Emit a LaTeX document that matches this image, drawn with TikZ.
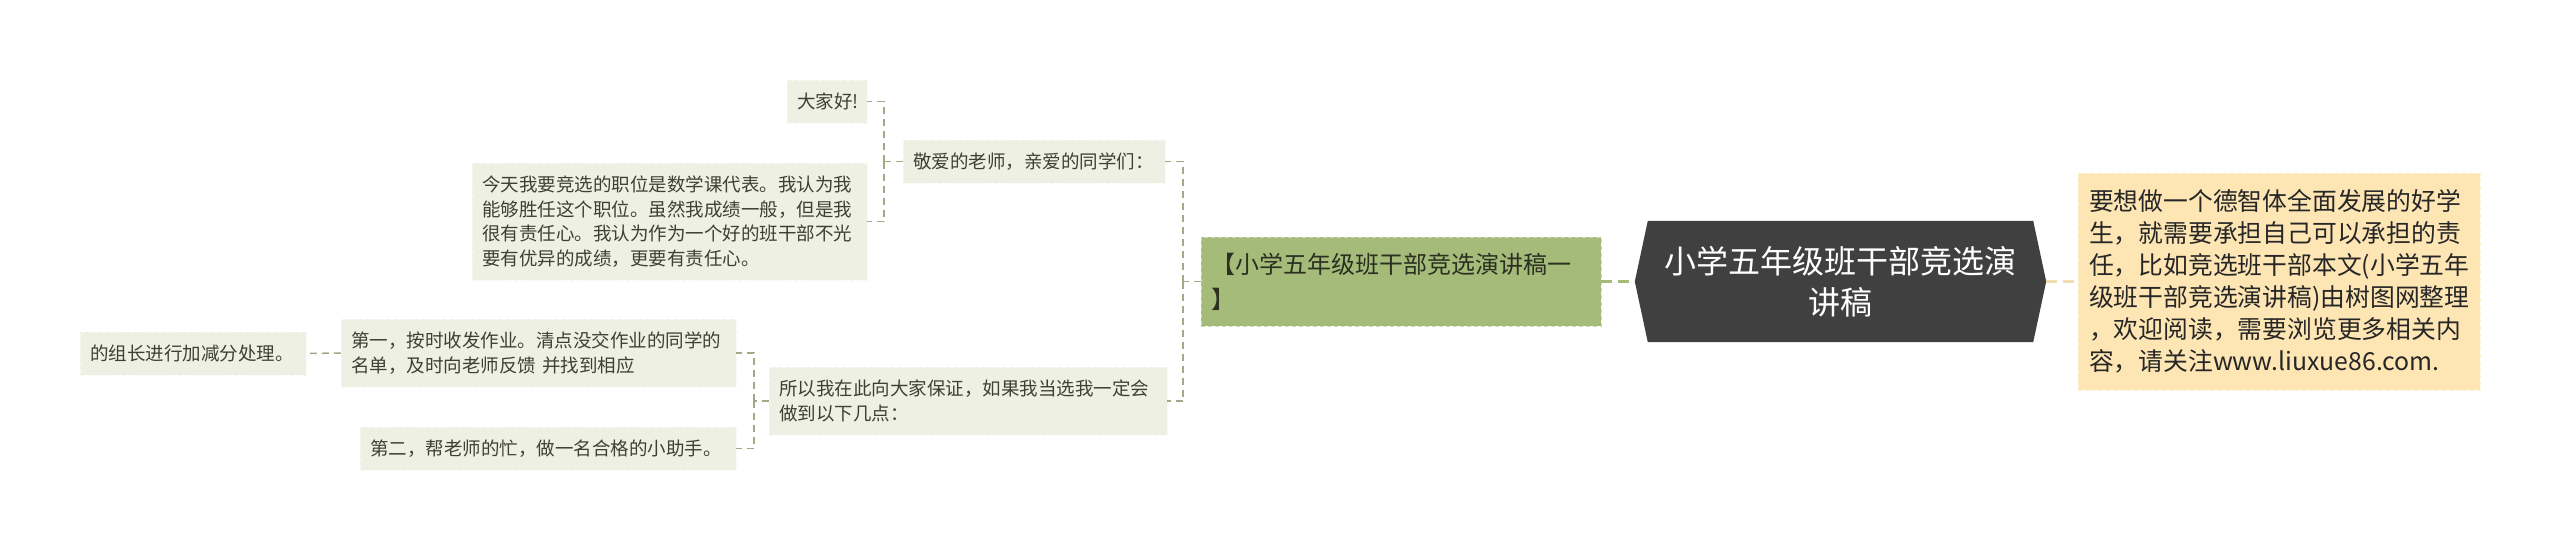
\documentclass[tikz,border=0pt]{standalone}
\usepackage{fontspec}
\newfontfamily\cjk{Noto Sans CJK SC}
\usetikzlibrary{backgrounds}
\definecolor{boxfill}{HTML}{EEF0E4}
\definecolor{boxtext}{HTML}{3F4030}
\definecolor{linecol}{HTML}{A3A887}
\definecolor{greenfill}{HTML}{A5BB7A}
\definecolor{greentext}{HTML}{2B3020}
\definecolor{darkfill}{HTML}{404040}
\definecolor{yellowfill}{HTML}{FDE6B4}
\definecolor{yellowline}{HTML}{F3DCB0}
\begin{document}
\begin{tikzpicture}[x=1pt,y=-1pt,
  leaf/.style={fill=boxfill, draw=white!55!boxfill, dash pattern=on 4pt off 3pt,
    text=boxtext, font=\cjk\fontsize{18.5}{24.5}\selectfont, align=left,
    inner xsep=10pt, inner ysep=0pt},
  conn/.style={draw=linecol, line width=1.5pt, dash pattern=on 7pt off 5pt},
  greenconn/.style={draw=greenfill, line width=3pt, dash pattern=on 11pt off 6pt},
  yellowconn/.style={draw=yellowline, line width=3pt, dash pattern=on 11pt off 6pt},
]
\useasboundingbox (0,0) rectangle (2560,551);

% leaves
\node[leaf, text width=60pt, minimum height=43pt] (n1) at (827,101.5) {大家好!};
\node[leaf, text width=375pt, minimum height=117pt] (n2) at (669.5,221.5)
  {今天我要竞选的职位是数学课代表。我认为我\\能够胜任这个职位。虽然我成绩一般，但是我\\很有责任心。我认为作为一个好的班干部不光\\要有优异的成绩，更要有责任心。};
\node[leaf, text width=242pt, minimum height=43pt] (n3) at (1034,161.5) {敬爱的老师，亲爱的同学们：};
\node[leaf, text width=206pt, minimum height=43pt] (n4) at (193,353.5) {的组长进行加减分处理。};
\node[leaf, text width=375pt, minimum height=68pt] (n5) at (538.5,353)
  {第一，按时收发作业。清点没交作业的同学的\\名单，及时向老师反馈 并找到相应};
\node[leaf, text width=356pt, minimum height=43pt] (n6) at (548,448.5) {第二，帮老师的忙，做一名合格的小助手。};
\node[leaf, text width=378pt, minimum height=68pt] (n7) at (968,401)
  {所以我在此向大家保证，如果我当选我一定会\\做到以下几点：};

% green branch
\node[fill=greenfill, draw=white!45!greenfill, dash pattern=on 4pt off 3pt, text=greentext,
  font=\cjk\fontsize{24}{35}\selectfont, align=left, text width=380pt,
  inner xsep=10pt, inner ysep=0pt, minimum height=89pt] (g) at (1401,281.5)
  {【小学五年级班干部竞选演讲稿一\\】};

% root
\node[minimum width=411pt, minimum height=121pt, inner sep=0pt, text=white,
  font=\cjk\fontsize{32}{41}\selectfont, align=center] (root) at (1840.5,281.5)
  {小学五年级班干部竞选演\\讲稿};
\begin{scope}[on background layer]
\fill[white] (0,0) rectangle (2560,551);
\fill[darkfill] (root.west) -- ([xshift=13pt]root.north west) -- ([xshift=-13pt]root.north east)
  -- (root.east) -- ([xshift=-13pt]root.south east) -- ([xshift=13pt]root.south west) -- cycle;
\end{scope}

% yellow note
\node[fill=yellowfill, draw=white!45!yellowfill, dash pattern=on 4pt off 3pt, text=black!85,
  font=\cjk\fontsize{24.8}{32}\selectfont, align=left, text width=380pt,
  inner xsep=11pt, inner ysep=0pt, minimum height=217pt] (yn) at (2279,281.5)
  {要想做一个德智体全面发展的好学\\生，就需要承担自己可以承担的责\\任，比如竞选班干部本文(小学五年\\级班干部竞选演讲稿)由树图网整理\\，欢迎阅读，需要浏览更多相关内\\容，请关注www.liuxue86.com.};

% connectors
\coordinate (bA) at (884,161.5);
\coordinate (bB) at (754,401);
\coordinate (bC) at (1183,281.5);
\draw[conn] (n3.west) -- (bA);
\draw[conn] (bA) |- (n1.east);
\draw[conn] (bA) |- (n2.east);
\draw[conn] (n7.west) -- (bB);
\draw[conn] (bB) |- (n5.east);
\draw[conn] (bB) |- (n6.east);
\draw[conn] (n5.west) -- (n4.east);
\draw[conn] (g.west) -- (bC);
\draw[conn] (bC) |- (n3.east);
\draw[conn] (bC) |- (n7.east);
\draw[greenconn] (g.east) -- (root.west);
\draw[yellowconn] (root.east) -- (yn.west);
\end{tikzpicture}
\end{document}
